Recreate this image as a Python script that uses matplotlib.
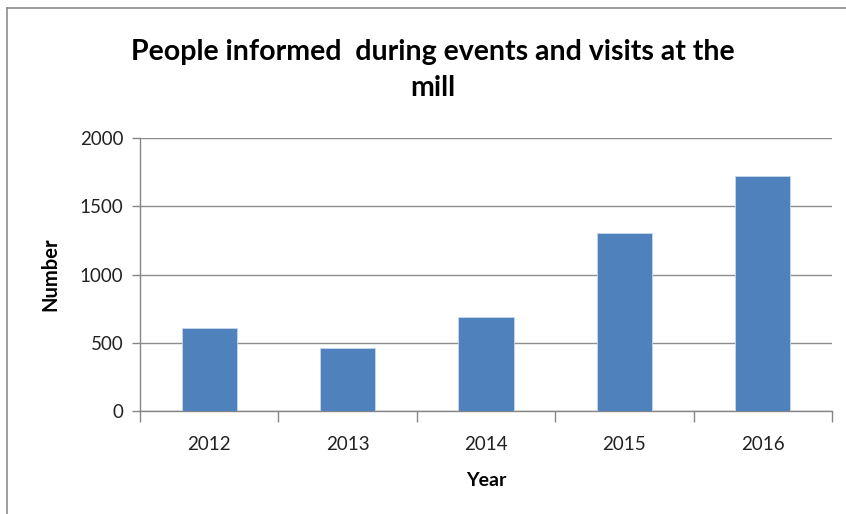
import matplotlib.pyplot as plt
from matplotlib.lines import Line2D

years = ['2012', '2013', '2014', '2015', '2016']
people = [610, 461, 685, 1302, 1719]
yticks = [0, 500, 1000, 1500, 2000]

plt.rcParams['font.family'] = ['Lato', 'DejaVu Sans']

fig = plt.figure(figsize=(8.46, 5.14), dpi=100)
ax = fig.add_axes([140 / 846, 1 - 411 / 514, (832 - 140) / 846, (411 - 138) / 514])

x = list(range(len(years)))
ax.bar(x, people, width=0.4, color='#4f81bd', edgecolor='#c6d7ec', linewidth=0.6, zorder=3)

ax.set_xlim(-0.5, len(years) - 0.5)
ax.set_ylim(0, 2000)
ax.set_yticks(yticks)
ax.set_yticklabels([str(v) for v in yticks], fontsize=13.5, color='#222222')
ax.set_xticks(x)
ax.set_xticklabels(years, fontsize=13.5, color='#222222')
ax.set_xticks([i - 0.5 for i in range(len(years) + 1)], minor=True)
ax.tick_params(axis='x', which='major', length=0, pad=18)
ax.tick_params(axis='x', which='minor', length=8, color='#868686', width=1)
ax.tick_params(axis='y', length=6, color='#868686', width=1, pad=6)

ax.grid(axis='y', color='#8c8c8c', linewidth=1, zorder=0)
for s in ['top', 'right']:
    ax.spines[s].set_visible(False)
for s in ['left', 'bottom']:
    ax.spines[s].set_color('#868686')
    ax.spines[s].set_linewidth(1)

ax.set_xlabel('Year', fontsize=14, fontweight='bold', labelpad=14)
ax.set_ylabel('Number', fontsize=14.5, fontweight='bold', labelpad=14)

fig.text(433 / 846, 1 - 70 / 514, 'People informed  during events and visits at the\nmill',
         ha='center', va='center', fontsize=20.5, fontweight='bold', linespacing=1.45)

# chart frame (left and top edges visible)
fig.add_artist(Line2D([7 / 846, 7 / 846], [0, 1 - 8 / 514], color='#8c8c8c', linewidth=1.2))
fig.add_artist(Line2D([7 / 846, 1], [1 - 8 / 514, 1 - 8 / 514], color='#8c8c8c', linewidth=1.2))

fig.savefig('out.png', dpi=100)
